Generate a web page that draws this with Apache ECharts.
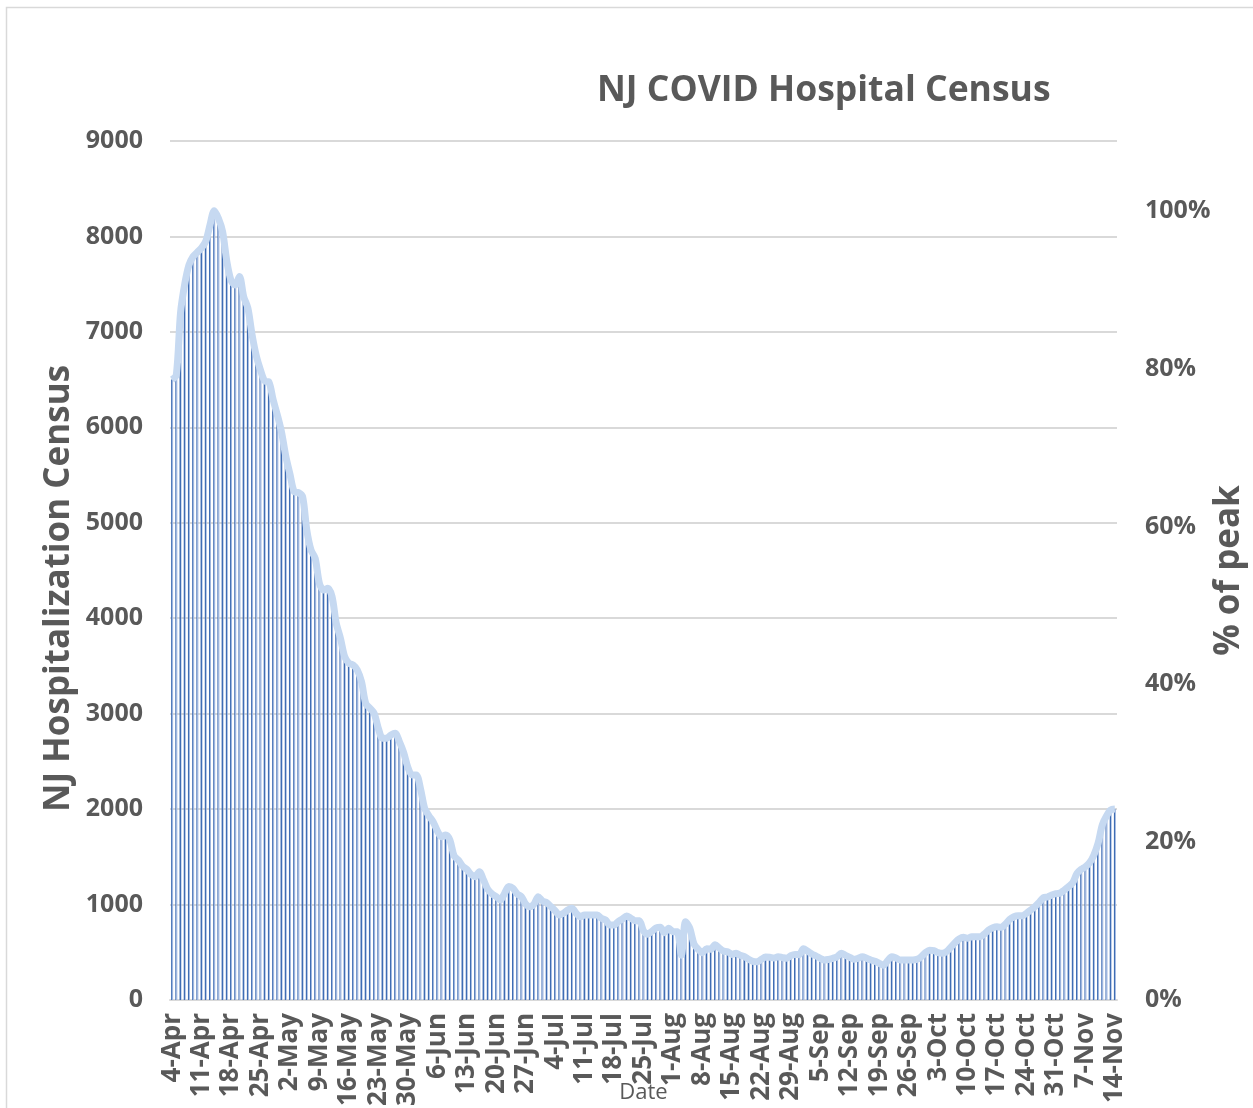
<!DOCTYPE html>
<html>
<head>
<meta charset="utf-8">
<script src="https://cdn.jsdelivr.net/npm/echarts@6/dist/echarts.min.js"></script>
<style>
html,body{margin:0;padding:0;background:#fff;}
#chart{width:1253px;height:1108px;}
</style>
</head>
<body>
<div id="chart"></div>
<script>
const titleText = 'NJ COVID Hospital Census';
const leftAxisName = 'NJ Hospitalization Census';
const rightAxisName = '% of peak';
const xAxisName = 'Date';

const dates = [
'4-Apr','5-Apr','6-Apr','7-Apr','8-Apr','9-Apr','10-Apr','11-Apr','12-Apr','13-Apr','14-Apr','15-Apr','16-Apr','17-Apr','18-Apr','19-Apr','20-Apr','21-Apr','22-Apr','23-Apr','24-Apr','25-Apr','26-Apr','27-Apr','28-Apr','29-Apr','30-Apr',
'1-May','2-May','3-May','4-May','5-May','6-May','7-May','8-May','9-May','10-May','11-May','12-May','13-May','14-May','15-May','16-May','17-May','18-May','19-May','20-May','21-May','22-May','23-May','24-May','25-May','26-May','27-May','28-May','29-May','30-May','31-May',
'1-Jun','2-Jun','3-Jun','4-Jun','5-Jun','6-Jun','7-Jun','8-Jun','9-Jun','10-Jun','11-Jun','12-Jun','13-Jun','14-Jun','15-Jun','16-Jun','17-Jun','18-Jun','19-Jun','20-Jun','21-Jun','22-Jun','23-Jun','24-Jun','25-Jun','26-Jun','27-Jun','28-Jun','29-Jun','30-Jun',
'1-Jul','2-Jul','3-Jul','4-Jul','5-Jul','6-Jul','7-Jul','8-Jul','9-Jul','10-Jul','11-Jul','12-Jul','13-Jul','14-Jul','15-Jul','16-Jul','17-Jul','18-Jul','19-Jul','20-Jul','21-Jul','22-Jul','23-Jul','24-Jul','25-Jul','26-Jul','27-Jul','28-Jul','29-Jul','30-Jul','31-Jul',
'1-Aug','2-Aug','3-Aug','4-Aug','5-Aug','6-Aug','7-Aug','8-Aug','9-Aug','10-Aug','11-Aug','12-Aug','13-Aug','14-Aug','15-Aug','16-Aug','17-Aug','18-Aug','19-Aug','20-Aug','21-Aug','22-Aug','23-Aug','24-Aug','25-Aug','26-Aug','27-Aug','28-Aug','29-Aug','30-Aug','31-Aug',
'1-Sep','2-Sep','3-Sep','4-Sep','5-Sep','6-Sep','7-Sep','8-Sep','9-Sep','10-Sep','11-Sep','12-Sep','13-Sep','14-Sep','15-Sep','16-Sep','17-Sep','18-Sep','19-Sep','20-Sep','21-Sep','22-Sep','23-Sep','24-Sep','25-Sep','26-Sep','27-Sep','28-Sep','29-Sep','30-Sep',
'1-Oct','2-Oct','3-Oct','4-Oct','5-Oct','6-Oct','7-Oct','8-Oct','9-Oct','10-Oct','11-Oct','12-Oct','13-Oct','14-Oct','15-Oct','16-Oct','17-Oct','18-Oct','19-Oct','20-Oct','21-Oct','22-Oct','23-Oct','24-Oct','25-Oct','26-Oct','27-Oct','28-Oct','29-Oct','30-Oct','31-Oct',
'1-Nov','2-Nov','3-Nov','4-Nov','5-Nov','6-Nov','7-Nov','8-Nov','9-Nov','10-Nov','11-Nov','12-Nov','13-Nov','14-Nov'
];

const census = [
6500,6550,7200,7500,7700,7790,7835,7880,7950,8120,
8270,8190,8050,7740,7540,7490,7580,7370,7250,6970,
6750,6600,6485,6475,6290,6130,5950,5700,5510,5326,
5316,5274,4925,4715,4628,4366,4296,4313,4226,3947,
3790,3597,3528,3510,3458,3335,3108,3056,3003,2846,
2742,2742,2777,2794,2707,2595,2440,2358,2358,2218,
2009,1930,1868,1774,1711,1729,1676,1509,1467,1404,
1369,1317,1292,1344,1257,1160,1111,1083,1048,1118,
1188,1170,1111,1083,1006,978,1006,1083,1037,1020,
978,936,891,908,943,961,908,873,891,891,
891,891,856,838,786,786,821,849,880,856,
831,830,725,690,720,756,761,705,751,716,
715,470,821,751,587,531,496,538,531,580,
545,513,506,478,489,468,454,426,405,401,
426,451,447,440,454,444,437,465,478,475,
538,510,482,461,437,419,426,437,454,489,
468,447,426,437,454,437,419,405,384,363,
412,454,440,419,419,419,419,426,454,496,
520,517,496,489,506,552,601,639,657,646,
663,663,663,692,733,758,768,761,796,845,
873,883,883,908,943,978,1023,1072,1079,1100,
1114,1121,1153,1188,1229,1327,1369,1397,1439,1519,
1642,1834,1928,1991,2001
];

const leftMax = 9000;
const leftInterval = 1000;
const pctInterval = 20;

const peak = Math.max.apply(null, census);
const pctOfPeak = census.map(v => v / peak * 100);

const txt = '#595959';
const gridColor = '#D9D9D9';
const font = '"Open Sans", "Noto Sans", sans-serif';

const chart = echarts.init(document.getElementById('chart'), null, {renderer: 'canvas'});
chart.setOption({
  backgroundColor: '#fff',
  animation: false,
  textStyle: {fontFamily: font},
  title: {
    text: titleText,
    left: 592, top: 68,
    textStyle: {fontFamily: font, fontSize: 35.5, fontWeight: 'bold', color: txt}
  },
  graphic: [{
    type: 'rect', left: 4, top: 5, shape: {width: 1300, height: 1200},
    style: {fill: 'none', stroke: gridColor, lineWidth: 1.5}, silent: true, z: -10
  }],
  grid: {left: 170, right: 136, top: 141, bottom: 108, containLabel: false, outerBoundsMode: 'none'},
  xAxis: {
    type: 'category',
    data: dates,
    boundaryGap: true,
    name: xAxisName,
    nameLocation: 'middle',
    nameGap: 82,
    nameMoveOverlap: false,
    nameTextStyle: {fontFamily: font, fontSize: 22, color: txt, fontWeight: 'normal', verticalAlign: 'top'},
    axisLine: {lineStyle: {color: gridColor, width: 2}},
    axisTick: {interval: 6, length: 7, lineStyle: {color: gridColor, width: 1.5}},
    axisLabel: {interval: 6, rotate: 90, margin: 13, hideOverlap: false, fontFamily: font, fontSize: 26, fontWeight: 'bold', color: txt},
    splitLine: {show: false}
  },
  yAxis: [{
    type: 'value', min: 0, max: leftMax, interval: leftInterval,
    name: leftAxisName, nameLocation: 'middle', nameRotate: 90, nameGap: 93,
    nameMoveOverlap: false,
    nameTextStyle: {fontFamily: font, fontSize: 35, fontWeight: 'bold', color: txt, padding: [0, 36, 0, 0]},
    axisLine: {show: false}, axisTick: {show: false},
    axisLabel: {margin: 27, formatter: v => String(v), fontFamily: font, fontSize: 25, fontWeight: 'bold', color: txt},
    splitLine: {lineStyle: {color: gridColor, width: 2}}
  }, {
    type: 'value', min: 0, max: leftMax / peak * 100, interval: pctInterval,
    name: rightAxisName, nameLocation: 'middle', nameRotate: 90, nameGap: 95,
    nameMoveOverlap: false,
    nameTextStyle: {fontFamily: font, fontSize: 35, fontWeight: 'bold', color: txt},
    axisLine: {show: false}, axisTick: {show: false},
    axisLabel: {margin: 28, showMaxLabel: false, formatter: '{value}%', fontFamily: font, fontSize: 25, fontWeight: 'bold', color: txt},
    splitLine: {show: false}
  }],
  series: [{
    type: 'bar',
    name: 'Census',
    data: census,
    yAxisIndex: 0,
    barWidth: 2,
    itemStyle: {
      color: new echarts.graphic.LinearGradient(0, 0, 1, 0, [
        {offset: 0, color: '#3F6DB4'}, {offset: 0.5, color: '#3F6DB4'},
        {offset: 0.5, color: '#9DB5DE'}, {offset: 1, color: '#9DB5DE'}
      ])
    },
    z: 2
  }, {
    type: 'line',
    name: '% of peak',
    data: pctOfPeak,
    yAxisIndex: 1,
    smooth: 0.3,
    symbol: 'none',
    lineStyle: {color: '#C6D9F1', width: 7},
    z: 3
  }]
});
</script>
</body>
</html>
